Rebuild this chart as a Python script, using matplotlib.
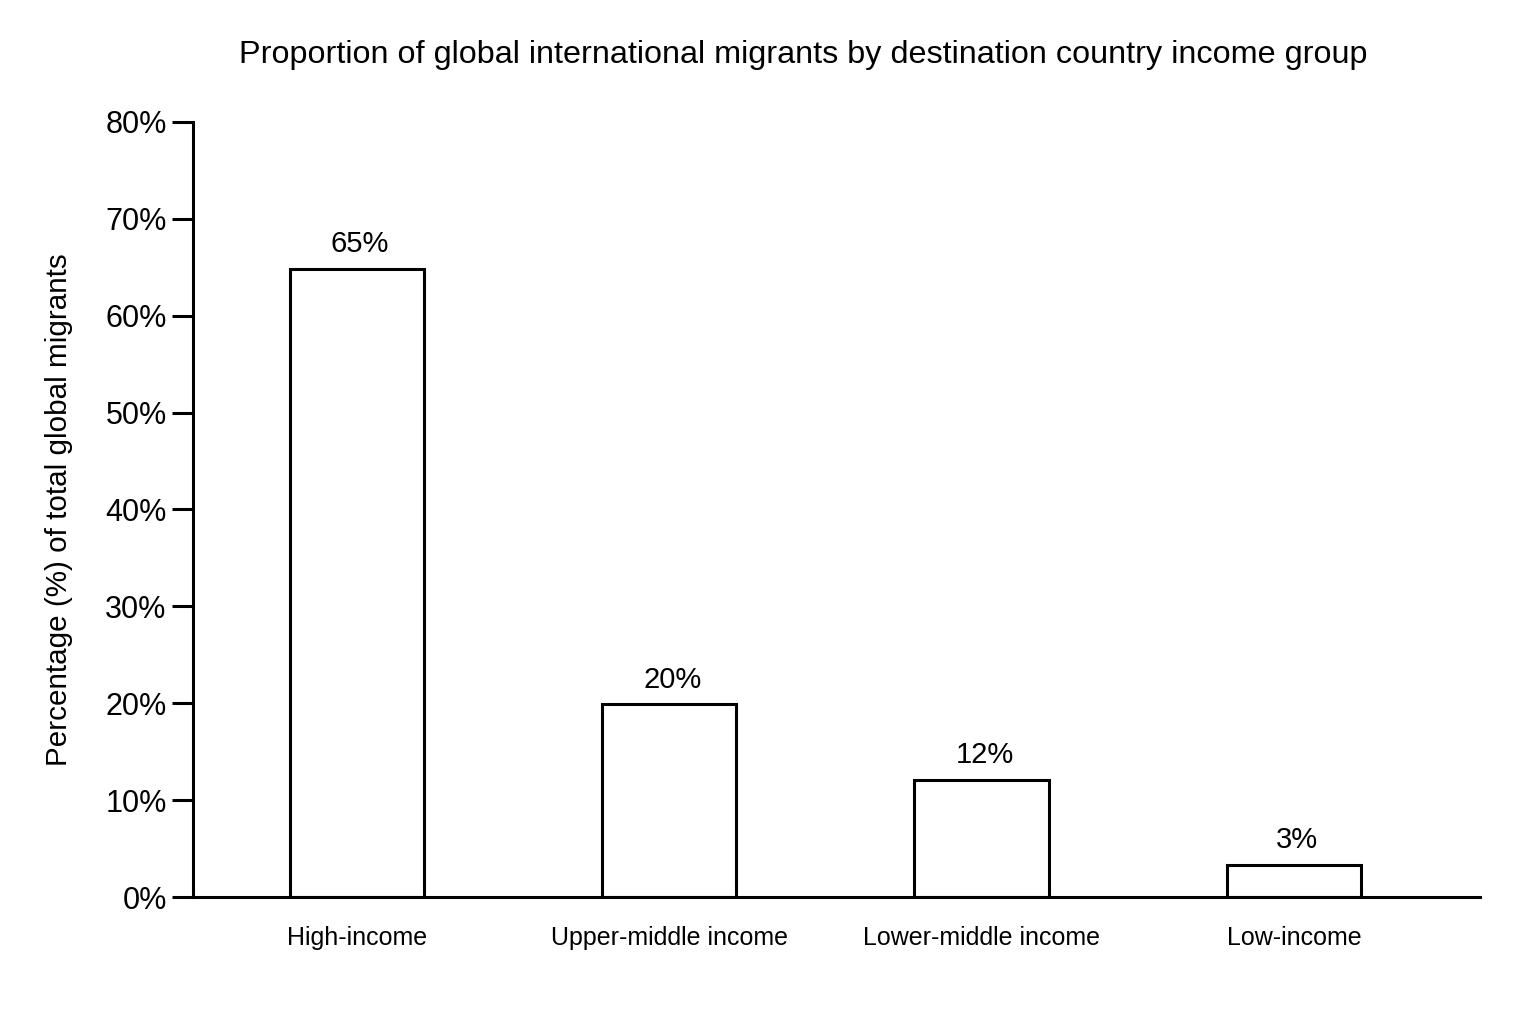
import matplotlib.pyplot as plt
from matplotlib.ticker import PercentFormatter

plt.rcParams['font.family'] = ['Liberation Sans Narrow', 'Liberation Sans', 'DejaVu Sans']

# data
income_groups = ['High-income', 'Upper-middle income', 'Lower-middle income', 'Low-income']
migrant_share = [64.8, 19.9, 12.1, 3.3]  # % of total global migrants
y_ticks = [0, 10, 20, 30, 40, 50, 60, 70, 80]

fig = plt.figure(figsize=(15.36, 10.24), dpi=100)
ax = fig.add_axes([0.1257, 0.124, 0.8378, 0.757])

x = range(len(income_groups))
bars = ax.bar(x, migrant_share, width=0.43, color='white', edgecolor='black', linewidth=2.2)

# value labels above the bars
for b, v in zip(bars, migrant_share):
    ax.text(b.get_x() + b.get_width() / 2 + 0.01, v + 1.1, '%.0f%%' % v,
            ha='center', va='bottom', fontsize=21)

ax.set_xlim(-0.525, 3.596)
ax.set_ylim(0, 80)
ax.set_yticks(y_ticks)
ax.yaxis.set_major_formatter(PercentFormatter(decimals=0))
ax.set_xticks(list(x))
ax.set_xticklabels(income_groups, fontsize=18)
ax.tick_params(axis='x', length=0, pad=21)
ax.tick_params(axis='y', length=15, width=2.2, labelsize=22, pad=4)

for side in ['top', 'right']:
    ax.spines[side].set_visible(False)
for side in ['left', 'bottom']:
    ax.spines[side].set_linewidth(2.2)

ax.set_ylabel('Percentage (%) of total global migrants', fontsize=21.3, labelpad=23)
fig.text(0.523, 0.946, 'Proportion of global international migrants by destination country income group',
         ha='center', va='center', fontsize=23.3)

fig.savefig('out.png', dpi=100, facecolor='white')
